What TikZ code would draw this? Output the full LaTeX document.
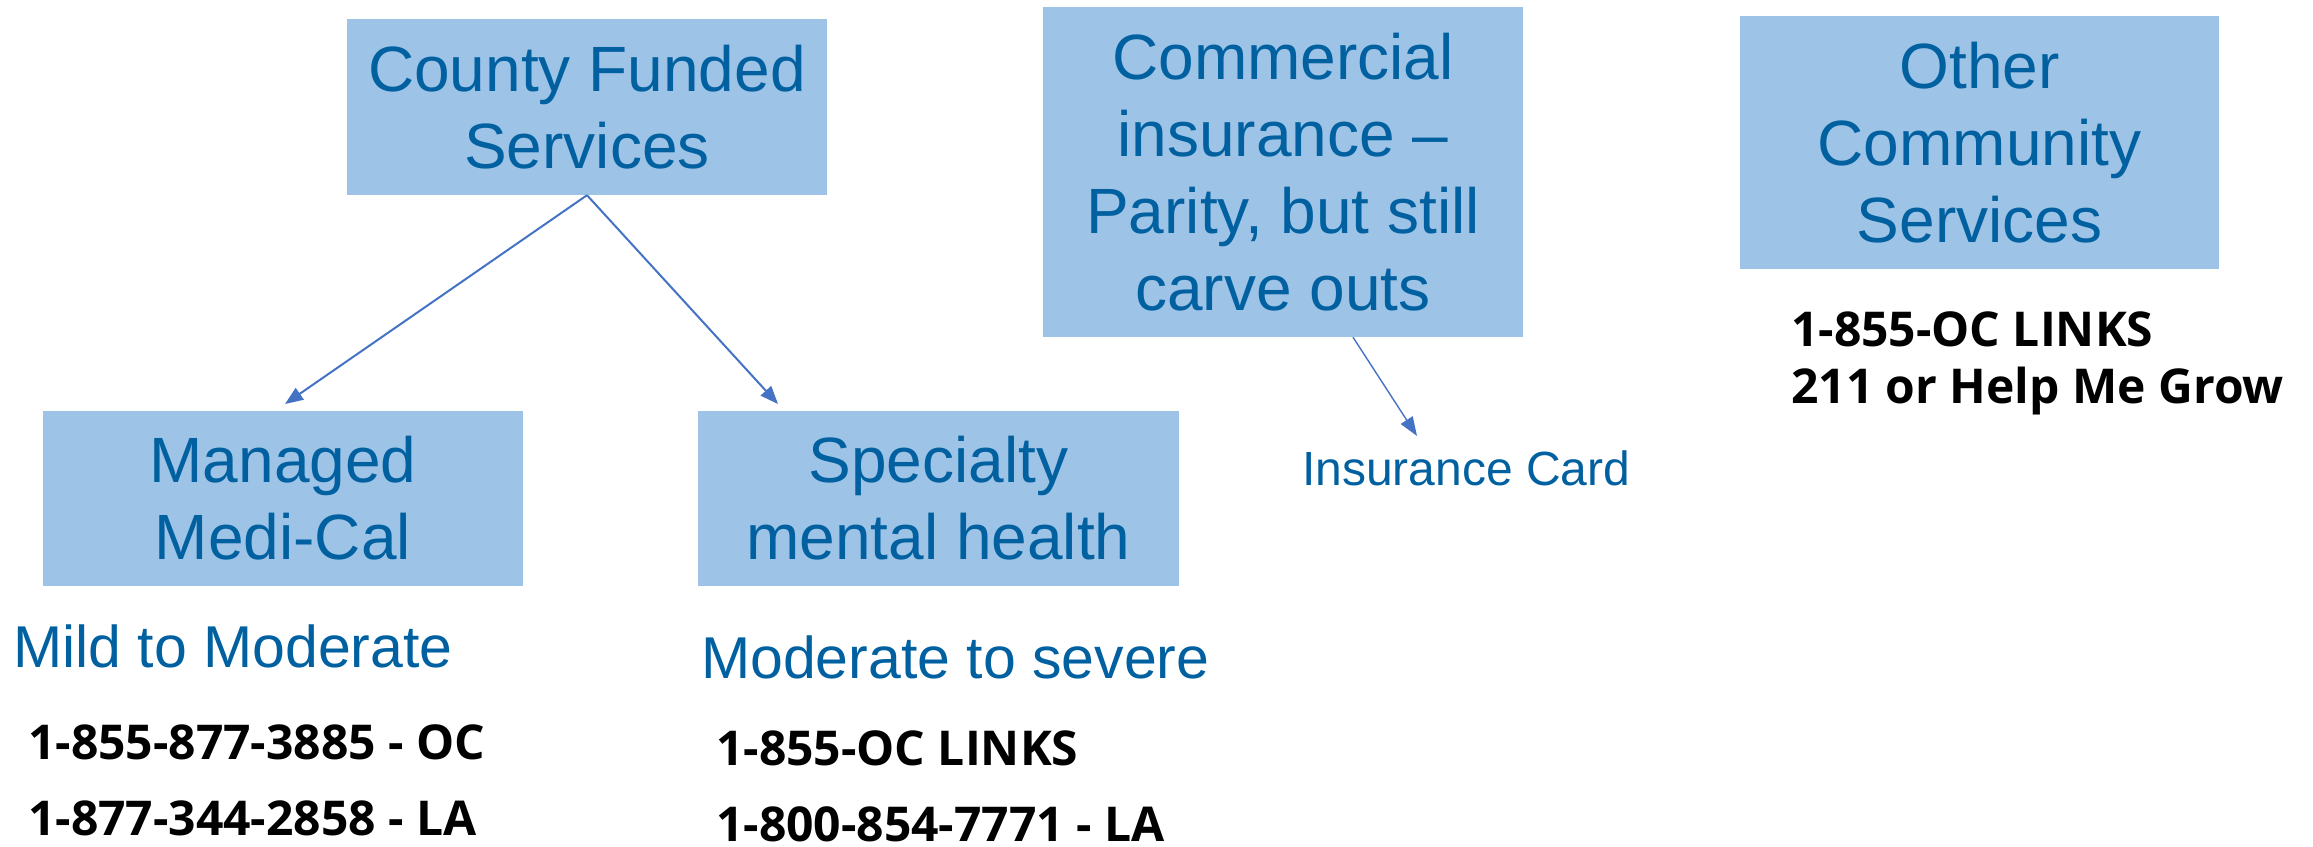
\documentclass[tikz,border=0pt]{standalone}
\usepackage{fontspec}
\setmainfont{Liberation Sans}
\newfontfamily\phonefont{Open Sans}
\usetikzlibrary{arrows.meta}
\definecolor{boxfill}{HTML}{9DC3E6}
\definecolor{labelblue}{RGB}{0,96,160}
\definecolor{linkblue}{HTML}{4472C4}
\tikzset{
  fundbox/.style={fill=boxfill, text=labelblue, inner sep=0pt, align=center,
    font=\fontsize{64}{77}\selectfont, minimum width=480pt},
  tierlabel/.style={text=labelblue, inner sep=0pt, anchor=base west,
    font=\fontsize{59}{70}\selectfont},
  phone/.style={text=black, inner sep=0pt, anchor=base west,
    font=\phonefont\bfseries\fontsize{48}{58}\selectfont},
  flow/.style={draw=linkblue, line width=2pt, -{Triangle[length=18pt,width=14pt]}},
  thinflow/.style={draw=linkblue, line width=1.4pt, -{Triangle[length=19pt,width=14pt]}}
}
\begin{document}
\begin{tikzpicture}[x=1pt,y=-1pt]
\useasboundingbox (0,0) rectangle (2313,846);

% funding sources
\node[fundbox, minimum height=176pt] (county) at (587,107) {County Funded\\Services};
\node[fundbox, minimum height=175pt] (managed) at (283,498.5) {Managed\\Medi-Cal};
\node[fundbox, minimum height=175pt, minimum width=481pt] (specialty) at (938.5,498.5) {Specialty\\mental health};
\node[fundbox, minimum height=330pt] (commercial) at (1283,172) {Commercial\\insurance --\\Parity, but still\\carve outs};
\node[fundbox, minimum height=253pt, minimum width=479pt] (other) at (1979.5,142.5) {Other\\Community\\Services};

% severity tiers and contact numbers
\node[tierlabel] (mild) at (13,667) {Mild to Moderate};
\node[tierlabel] (severe) at (701,678) {Moderate to severe};
\node[tierlabel, font=\fontsize{48}{57}\selectfont] (card) at (1302,485) {Insurance Card};

\node[phone] (ocmild) at (28,759) {1-855-877-3885 - OC};
\node[phone] (lamild) at (28,835) {1-877-344-2858 - LA};
\node[phone] (ocsevere) at (716,765) {1-855-OC LINKS};
\node[phone, text depth=0pt] (lasevere) at (716,841) {1-800-854-7771 - LA};
\node[phone] (oclinks) at (1791,346) {1-855-OC LINKS};
\node[phone] (grow) at (1791,403) {211 or Help Me Grow};

% connectors
\coordinate (mcTip) at (285,404);
\coordinate (smhTip) at (778,404);
\coordinate (cardTip) at (1417,436);
\draw[flow] (county.south) -- (mcTip);
\draw[flow] (county.south) -- (smhTip);
\draw[thinflow] ([xshift=70pt]commercial.south) -- (cardTip);
\end{tikzpicture}
\end{document}
